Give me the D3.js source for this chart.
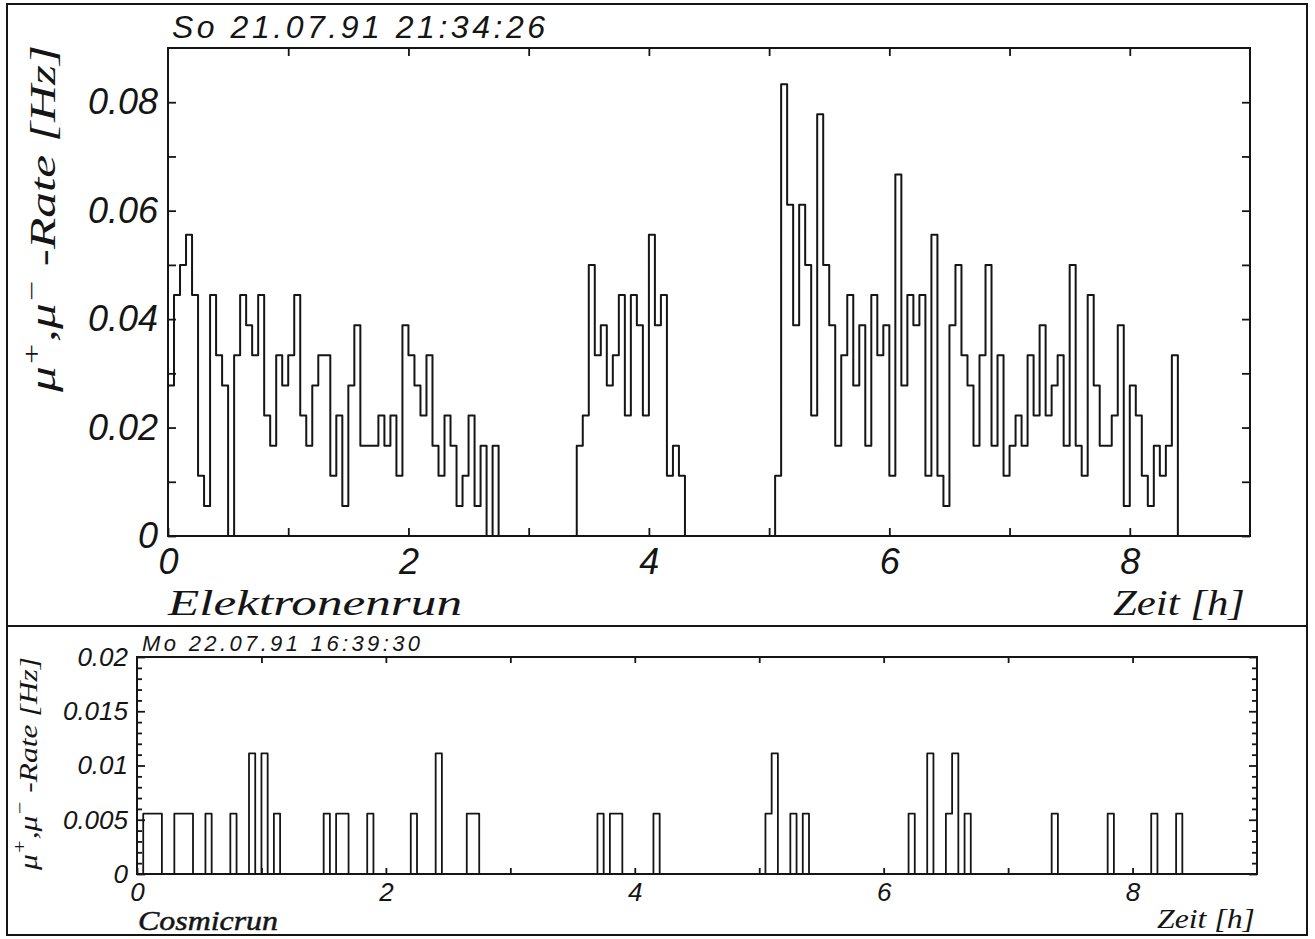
<!DOCTYPE html>
<html>
<head>
<meta charset="utf-8">
<script src="https://cdn.jsdelivr.net/npm/d3@7"></script>
<style>
  html, body { margin: 0; padding: 0; background: #ffffff; }
  svg { display: block; }
</style>
</head>
<body>
<svg id="chart" width="1315" height="939"></svg>
<script>
// Muon rates per 3-minute bin (180 s); time axis in hours.
const binHours = 0.05;
const binSeconds = 180;

// Elektronenrun: muon counts per bin
const electronRunCounts = [
  5, 8, 9, 10, 8, 2, 1, 8, 6, 5, 0, 6, 8, 7, 6, 8, 4, 3, 6, 5,
  6, 8, 4, 3, 5, 6, 6, 2, 4, 1, 5, 7, 3, 3, 3, 4, 3, 4, 2, 7,
  6, 5, 4, 6, 3, 2, 4, 3, 1, 2, 4, 1, 3, 0, 3, 0, 0, 0, 0, 0,
  0, 0, 0, 0, 0, 0, 0, 0, 3, 4, 9, 6, 7, 5, 6, 8, 4, 8, 7, 4,
  10, 7, 8, 2, 3, 2, 0, 0, 0, 0, 0, 0, 0, 0, 0, 0, 0, 0, 0, 0,
  0, 2, 15, 11, 7, 11, 9, 4, 14, 9, 7, 3, 6, 8, 5, 7, 3, 8, 6, 7,
  2, 12, 5, 8, 7, 8, 2, 10, 2, 1, 7, 9, 6, 5, 3, 6, 9, 3, 6, 2,
  3, 4, 3, 6, 4, 7, 4, 5, 6, 3, 9, 3, 2, 8, 5, 3, 3, 4, 7, 1,
  5, 4, 2, 1, 3, 2, 3, 6
];

// Cosmicrun: muon counts per bin
const cosmicRunCounts = [
  0, 1, 1, 1, 0, 0, 1, 1, 1, 0, 0, 1, 0, 0, 0, 1, 0, 0, 2, 0,
  2, 0, 1, 0, 0, 0, 0, 0, 0, 0, 1, 0, 1, 1, 0, 0, 0, 1, 0, 0,
  0, 0, 0, 0, 1, 0, 0, 0, 2, 0, 0, 0, 0, 1, 1, 0, 0, 0, 0, 0,
  0, 0, 0, 0, 0, 0, 0, 0, 0, 0, 0, 0, 0, 0, 1, 0, 1, 1, 0, 0,
  0, 0, 0, 1, 0, 0, 0, 0, 0, 0, 0, 0, 0, 0, 0, 0, 0, 0, 0, 0,
  0, 1, 2, 0, 0, 1, 0, 1, 0, 0, 0, 0, 0, 0, 0, 0, 0, 0, 0, 0,
  0, 0, 0, 0, 1, 0, 0, 2, 0, 0, 1, 2, 0, 1, 0, 0, 0, 0, 0, 0,
  0, 0, 0, 0, 0, 0, 0, 1, 0, 0, 0, 0, 0, 0, 0, 0, 1, 0, 0, 0,
  0, 0, 0, 1, 0, 0, 0, 1
];

// Axis ticks and labels
const hourTicks = [1, 2, 3, 4, 5, 6, 7, 8];
const hourLabelValues = [0, 2, 4, 6, 8];
const hourLabels = ["0", "2", "4", "6", "8"];

const topRateTicks = [0.01, 0.02, 0.03, 0.04, 0.05, 0.06, 0.07, 0.08];
const topRateLabelValues = [0, 0.02, 0.04, 0.06, 0.08];
const topRateLabels = ["0", "0.02", "0.04", "0.06", "0.08"];

const bottomRateMinorTicks = [0.001, 0.002, 0.003, 0.004, 0.006, 0.007, 0.008, 0.009,
  0.011, 0.012, 0.013, 0.014, 0.016, 0.017, 0.018, 0.019];
const bottomRateLabelValues = [0, 0.005, 0.01, 0.015, 0.02];
const bottomRateLabels = ["0", "0.005", "0.01", "0.015", "0.02"];

const topTitle = "So 21.07.91 21:34:26";
const bottomTitle = "Mo 22.07.91 16:39:30";

const INK = "#151515";
const numberFont = "'Liberation Sans', Arial, sans-serif";
const wordFont = "'Liberation Serif', 'Times New Roman', serif";

const svg = d3.select("#chart");

// Outer sheet frame and panel divider
svg.append("rect")
  .attr("x", 7).attr("y", 4).attr("width", 1300).attr("height", 931)
  .attr("fill", "none").attr("stroke", INK).attr("stroke-width", 2);
svg.append("line")
  .attr("x1", 7).attr("x2", 1307).attr("y1", 626).attr("y2", 626)
  .attr("stroke", INK).attr("stroke-width", 2);

function histogramPath(x, y, counts) {
  const pts = [[0, 0]]
    .concat(counts.map((c, i) => [i * binHours, c / binSeconds]))
    .concat([[counts.length * binHours, 0]]);
  return d3.line()
    .x(d => x(d[0]))
    .y(d => y(d[1]))
    .curve(d3.curveStepAfter)(pts);
}

function styleAxis(g, fontSize, fontFamily) {
  g.select(".domain").remove();
  g.selectAll(".tick line").attr("stroke", INK).attr("stroke-width", 1.8);
  g.selectAll(".tick text")
    .attr("fill", INK)
    .style("font-family", fontFamily)
    .style("font-style", "italic")
    .style("font-size", fontSize + "px");
}

function labelFor(values, labels) {
  return d => {
    const i = values.findIndex(v => Math.abs(v - d) < 1e-9);
    return i >= 0 ? labels[i] : "";
  };
}

function wordText(g, x, y, len, size, str, weightStroke) {
  const t = g.append("text")
    .attr("x", x).attr("y", y)
    .attr("textLength", len)
    .attr("lengthAdjust", "spacingAndGlyphs")
    .style("font-family", wordFont).style("font-style", "italic")
    .style("font-size", size + "px")
    .attr("fill", INK)
    .text(str);
  if (weightStroke) t.attr("stroke", INK).attr("stroke-width", weightStroke);
  return t;
}

function drawPanel(p) {
  const g = svg.append("g");
  const x = d3.scaleLinear().domain([0, 9]).range([p.left, p.right]);
  const y = d3.scaleLinear().domain([0, p.yMax]).range([p.bottom, p.top]);

  // minor ticks (unlabelled), left/right
  if (p.yMinor) {
    g.append("g").attr("transform", `translate(${p.left},0)`)
      .call(d3.axisLeft(y).tickValues(p.yMinor).tickSize(-p.minorLen).tickFormat(""))
      .call(a => styleAxis(a, p.numSize, numberFont));
    g.append("g").attr("transform", `translate(${p.right},0)`)
      .call(d3.axisRight(y).tickValues(p.yMinor).tickSize(-p.minorLen).tickFormat(""))
      .call(a => styleAxis(a, p.numSize, numberFont));
  }
  // main y ticks with labels
  g.append("g").attr("transform", `translate(${p.left},0)`)
    .call(d3.axisLeft(y).tickValues(p.yTicks).tickSize(-p.majorLen)
      .tickPadding(p.yPad).tickFormat(labelFor(p.yLabelValues, p.yLabels)))
    .call(a => styleAxis(a, p.numSize, numberFont));
  g.append("g").attr("transform", `translate(${p.right},0)`)
    .call(d3.axisRight(y).tickValues(p.yTicks).tickSize(-p.majorLen).tickFormat(""))
    .call(a => styleAxis(a, p.numSize, numberFont));

  // x ticks: bottom (labelled) and top
  g.append("g").attr("transform", `translate(0,${p.bottom})`)
    .call(d3.axisBottom(x).tickValues([0].concat(hourTicks)).tickSize(-p.xTickLen)
      .tickPadding(p.xPad).tickFormat(labelFor(hourLabelValues, hourLabels)))
    .call(a => styleAxis(a, p.numSize, numberFont));
  g.append("g").attr("transform", `translate(0,${p.top})`)
    .call(d3.axisTop(x).tickValues(hourTicks).tickSize(-p.xTickLen).tickFormat(""))
    .call(a => styleAxis(a, p.numSize, numberFont));

  // frame
  g.append("rect")
    .attr("x", p.left).attr("y", p.top)
    .attr("width", p.right - p.left).attr("height", p.bottom - p.top)
    .attr("fill", "none").attr("stroke", INK).attr("stroke-width", 2);

  // histogram outline
  g.append("path")
    .attr("d", histogramPath(x, y, p.counts))
    .attr("fill", "none")
    .attr("stroke", INK)
    .attr("stroke-width", p.lineWidth)
    .attr("stroke-linejoin", "round");

  // title above frame
  g.append("text")
    .attr("x", p.titleX).attr("y", p.titleY)
    .attr("textLength", p.titleLen)
    .style("font-family", numberFont).style("font-style", "italic")
    .style("font-size", p.titleSize + "px")
    .attr("fill", INK)
    .text(p.title);

  // run name and axis title under the axis
  wordText(g, p.runX, p.runY, p.runLen, p.wordSize, p.runName, p.runStroke);
  wordText(g, p.zeitX, p.zeitY, p.zeitLen, p.wordSize, "Zeit [h]", 0);

  // rotated y-axis title
  const yl = g.append("text")
    .attr("transform", `translate(${p.ylabX},${p.ylabY}) rotate(-90)`)
    .attr("textLength", p.ylabLen)
    .attr("lengthAdjust", "spacingAndGlyphs")
    .style("font-family", wordFont).style("font-style", "italic")
    .style("font-size", p.ylabSize + "px")
    .attr("fill", INK);
  const sup = Math.round(p.ylabSize * 0.42);
  yl.append("tspan").text("\u03BC");
  yl.append("tspan").attr("dy", -sup).style("font-size", (p.ylabSize * 0.7) + "px").text("+");
  yl.append("tspan").attr("dy", sup).text(",\u03BC");
  yl.append("tspan").attr("dy", -sup).style("font-size", (p.ylabSize * 0.7) + "px").text("\u2212");
  yl.append("tspan").attr("dy", sup).text("  -Rate  [Hz]");
}

// Upper panel: Elektronenrun
drawPanel({
  left: 168, right: 1250, top: 48, bottom: 536, yMax: 0.09,
  counts: electronRunCounts,
  yTicks: [0].concat(topRateTicks), yLabelValues: topRateLabelValues, yLabels: topRateLabels,
  yMinor: null, majorLen: 8, minorLen: 5, xTickLen: 8,
  yPad: 10, xPad: 12, numSize: 36, lineWidth: 2,
  title: topTitle, titleX: 172, titleY: 38, titleLen: 373, titleSize: 32,
  runName: "Elektronenrun", runX: 168, runY: 615, runLen: 294, runStroke: 0,
  zeitX: 1113, zeitY: 615, zeitLen: 132, wordSize: 35,
  ylabX: 55, ylabY: 392, ylabLen: 347, ylabSize: 35
});

// Lower panel: Cosmicrun
drawPanel({
  left: 137, right: 1257, top: 657, bottom: 874, yMax: 0.02,
  counts: cosmicRunCounts,
  yTicks: bottomRateLabelValues, yLabelValues: bottomRateLabelValues, yLabels: bottomRateLabels,
  yMinor: bottomRateMinorTicks, majorLen: 8, minorLen: 5, xTickLen: 6,
  yPad: 9, xPad: 9, numSize: 26, lineWidth: 1.8,
  title: bottomTitle, titleX: 142, titleY: 651, titleLen: 278, titleSize: 22,
  runName: "Cosmicrun", runX: 138, runY: 930, runLen: 140, runStroke: 0.5,
  zeitX: 1157, zeitY: 928, zeitLen: 98, wordSize: 27,
  ylabX: 37, ylabY: 870, ylabLen: 213, ylabSize: 26
});
</script>
</body>
</html>
